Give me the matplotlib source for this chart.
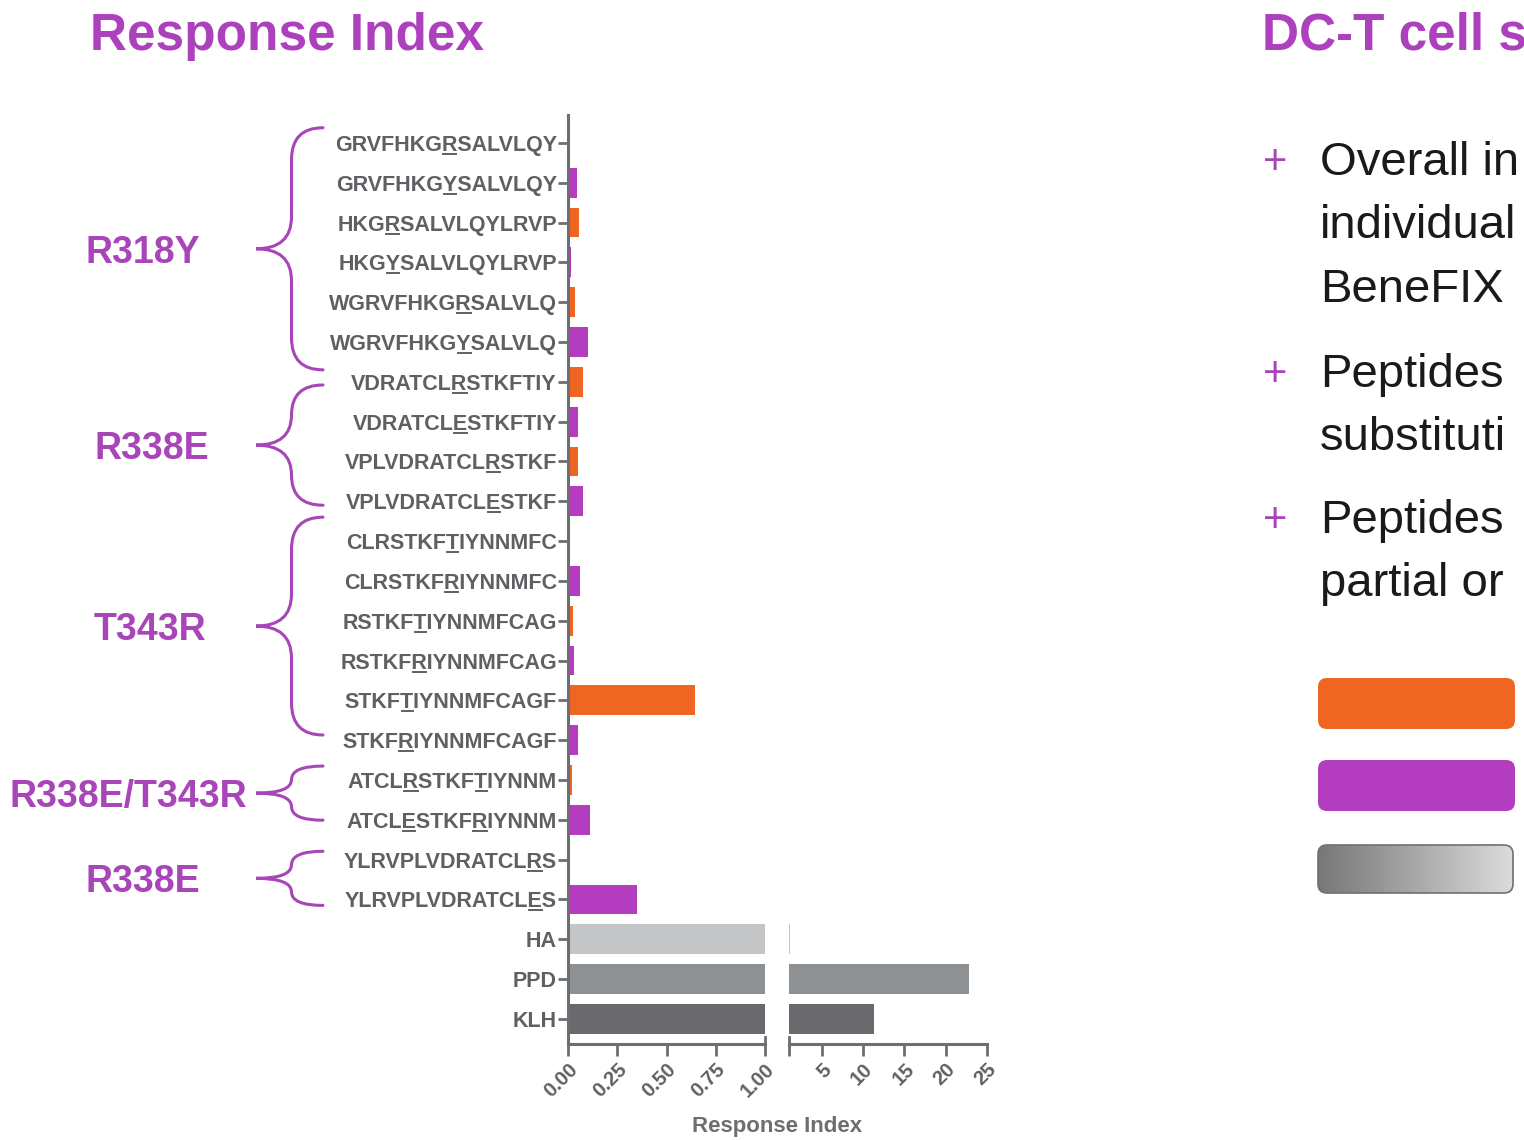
import numpy as np
import matplotlib.pyplot as plt
from matplotlib.patches import FancyBboxPatch, PathPatch
from matplotlib.path import Path
from matplotlib.lines import Line2D
from matplotlib.colors import LinearSegmentedColormap

plt.rcParams['font.family'] = ['Liberation Sans', 'DejaVu Sans']

# peptides, "_" marks the underlined (substituted) residue
peptides = ['GRVFHKG_RSALVLQY', 'GRVFHKG_YSALVLQY', 'HKG_RSALVLQYLRVP', 'HKG_YSALVLQYLRVP',
            'WGRVFHKG_RSALVLQ', 'WGRVFHKG_YSALVLQ', 'VDRATCL_RSTKFTIY', 'VDRATCL_ESTKFTIY',
            'VPLVDRATCL_RSTKF', 'VPLVDRATCL_ESTKF', 'CLRSTKF_TIYNNMFC', 'CLRSTKF_RIYNNMFC',
            'RSTKF_TIYNNMFCAG', 'RSTKF_RIYNNMFCAG', 'STKF_TIYNNMFCAGF', 'STKF_RIYNNMFCAGF',
            'ATCL_RSTKF_TIYNNM', 'ATCL_ESTKF_RIYNNM', 'YLRVPLVDRATCL_RS', 'YLRVPLVDRATCL_ES',
            'HA', 'PPD', 'KLH']
response = [0.0, 0.045, 0.056, 0.015, 0.035, 0.10, 0.075, 0.05, 0.05, 0.075, 0.0, 0.062,
            0.027, 0.03, 0.645, 0.05, 0.018, 0.11, 0.012, 0.35, 1.1, 22.8, 11.3]
kind = ['native', 'variant'] * 10 + ['HA', 'PPD', 'KLH']

groups = ['R318Y', 'R338E', 'T343R', 'R338E/T343R', 'R338E']

left_ticks = [0, 0.25, 0.5, 0.75, 1.0]
right_ticks = [5, 10, 15, 20, 25]

# slide text as far as it is visible on the (cropped) slide
bullets = [['Overall in', 'individual', 'BeneFIX'],
           ['Peptides', 'substituti'],
           ['Peptides', 'partial or']]

kind_colors = {'native': '#ee6622', 'variant': '#b33cbf',
               'HA': '#c4c5c7', 'PPD': '#8e9194', 'KLH': '#6a6a6e'}
purple = '#a845b8'
axis_gray = '#6d6e71'
label_gray = '#5f6063'

W, H = 1524, 1140
fig = plt.figure(figsize=(W / 100, H / 100), dpi=100)

bg = fig.add_axes([0, 0, 1, 1])
bg.axis('off')


def px_axes(x0, y0, x1, y1):
    return fig.add_axes([x0 / W, 1 - y1 / H, (x1 - x0) / W, (y1 - y0) / H])


ax1 = px_axes(568, 115, 765, 1044)
ax2 = px_axes(789, 115, 987, 1044)

clean = [p.replace('_', '') for p in peptides]
rows = np.arange(len(peptides))
colors = [kind_colors[k] for k in kind]

for ax in (ax1, ax2):
    ax.barh(rows, response, height=0.75, color=colors)
    ax.set_ylim(len(rows) - 1 + 0.63, -0.70)
    ax.spines[['top', 'right']].set_visible(False)
    for s in ('left', 'bottom'):
        ax.spines[s].set_color(axis_gray)
        ax.spines[s].set_linewidth(2.2)
    ax.tick_params(axis='x', length=8.5, width=2, color=axis_gray, pad=3,
                   labelsize=14.5, labelcolor=label_gray)
    ax.set_facecolor('none')

ax1.set_xlim(0, 1)
ax1.set_xticks(left_ticks)
ax1.set_xticklabels(['%.2f' % t for t in left_ticks], rotation=45, ha='right',
                    rotation_mode='anchor', fontweight='bold')
ax1.set_yticks(rows)
ax1.set_yticklabels(clean, fontsize=15.5, fontweight='bold', color=label_gray)
ax1.tick_params(axis='y', length=7, width=2, color=axis_gray, pad=1)

ax2.set_xlim(1, 25)
ax2.set_xticks([1] + right_ticks)
ax2.set_xticklabels([''] + [str(t) for t in right_ticks], rotation=45, ha='right',
                    rotation_mode='anchor', fontweight='bold')
ax2.spines['left'].set_visible(False)
ax2.tick_params(axis='y', left=False, labelleft=False)

# break marks poking above the axis line
ax1.plot([1, 1], [0, 0.008], transform=ax1.transAxes, color=axis_gray, lw=2, clip_on=False)
ax2.plot([0, 0], [0, 0.008], transform=ax2.transAxes, color=axis_gray, lw=2, clip_on=False)

fig.text(777 / W, 1 - 1132 / H, 'Response Index', ha='center', va='baseline',
         fontsize=16, fontweight='bold', color=axis_gray)

bg.set_xlim(0, W)
bg.set_ylim(H, 0)


def row_px(r):
    d = ax1.transData.transform((0, r))
    return bg.transData.inverted().transform(d)[1]


def brace(xt, xe, y0, y1):
    xv = (xt + xe) / 2 + 2
    yt = (y0 + y1) / 2
    r = min(32, (y1 - y0) / 4)
    verts = [(xe, y0), (xv, y0), (xv, y0 + r), (xv, yt - r), (xv, yt), (xt, yt),
             (xv, yt), (xv, yt + r), (xv, y1 - r), (xv, y1), (xe, y1)]
    codes = [Path.MOVETO, Path.CURVE3, Path.CURVE3, Path.LINETO, Path.CURVE3, Path.CURVE3,
             Path.CURVE3, Path.CURVE3, Path.LINETO, Path.CURVE3, Path.CURVE3]
    bg.add_patch(PathPatch(Path(verts, codes), fc='none', ec=purple, lw=2.2,
                           capstyle='round'))
    return yt


brace_rows = [(-0.38, 5.70), (6.08, 9.10), (9.40, 14.87), (15.65, 17.01), (17.79, 19.15)]
label_x = [143, 152, 150, 128, 143]
for name, (r0, r1), lx in zip(groups, brace_rows, label_x):
    yt = brace(256, 323, row_px(r0), row_px(r1))
    bg.text(lx, yt + 14, name, ha='center', va='baseline', fontsize=27,
            fontweight='bold', color=purple)

# titles
bg.text(90, 50, 'Response Index', fontsize=37, fontweight='bold', color='#ad40bd',
        va='baseline')
bg.text(1262, 50, 'DC-T cell s', fontsize=37, fontweight='bold',
        color='#ad40bd', va='baseline')

# bullet text
baselines = [[175, 238, 302], [387, 450], [533, 596]]
for lines, bls in zip(bullets, baselines):
    bg.text(1275, bls[0] - 1, '+', ha='center', va='baseline', fontsize=30, color=purple)
    for line, b in zip(lines, bls):
        bg.text(1320, b, line, fontsize=34, color='#1a1a1a', va='baseline')

# legend swatches
for yb, c in [(678, kind_colors['native']), (760, kind_colors['variant'])]:
    bg.add_patch(FancyBboxPatch((1318, yb), 197, 51, boxstyle='round,pad=0,rounding_size=9',
                                fc=c, ec='none'))
box = FancyBboxPatch((1318, 845), 195, 48, boxstyle='round,pad=0,rounding_size=9',
                     fc='none', ec='#707070', lw=1.2, zorder=3)
bg.add_patch(box)
grad = np.linspace(0, 1, 256).reshape(1, -1)
cmap = LinearSegmentedColormap.from_list('g', ['#777777', '#a8a8a8', '#dcdcdc'])
im = bg.imshow(grad, extent=(1318, 1513, 893, 845), cmap=cmap, aspect='auto', zorder=2)
im.set_clip_path(box)
bg.set_xlim(0, W)
bg.set_ylim(H, 0)

# underline substituted residues in the peptide labels
fig.canvas.draw()
renderer = fig.canvas.get_renderer()
for t, pep in zip(ax1.get_yticklabels(), peptides):
    if '_' not in pep:
        continue
    s = pep.replace('_', '')
    prop = t.get_fontproperties()
    bb = t.get_window_extent(renderer)
    _, _, d_full = renderer.get_text_width_height_descent(s, prop, ismath=False)
    _, _, d_lp = renderer.get_text_width_height_descent('lp', prop, ismath=False)
    base = bb.y0 + max(d_full, d_lp)
    parts = pep.split('_')
    idx = []
    pos = 0
    for p in parts[:-1]:
        pos += len(p)
        idx.append(pos)
    for k in idx:
        w_a = renderer.get_text_width_height_descent(s[k:], prop, ismath=False)[0]
        w_b = renderer.get_text_width_height_descent(s[k + 1:], prop, ismath=False)[0]
        x0 = bb.x1 - w_a + 1
        x1 = bb.x1 - w_b - 1
        yy = base - 3
        fig.add_artist(Line2D([x0 / W, x1 / W], [yy / H, yy / H], transform=fig.transFigure,
                              color=label_gray, lw=1.4))

fig.savefig('out.png', dpi=100)
